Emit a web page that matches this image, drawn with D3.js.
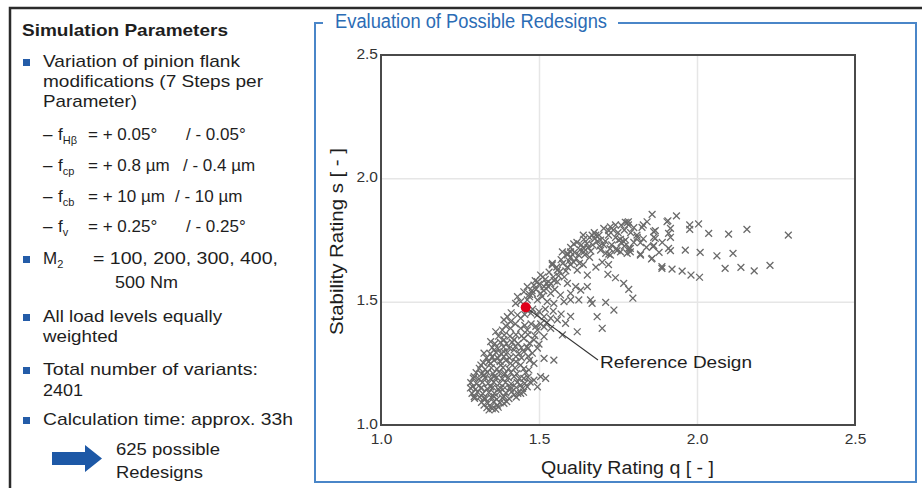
<!DOCTYPE html>
<html>
<head>
<meta charset="utf-8">
<script src="https://cdn.jsdelivr.net/npm/d3@7"></script>
<style>
  body { margin: 0; background: #fff; }
  svg { display: block; font-family: "Liberation Sans", Arial, sans-serif; }
</style>
</head>
<body>
<svg id="chart" width="922" height="488"></svg>
<script>
// axis ticks
var qTicks = [1.0, 1.5, 2.0, 2.5]
var sTicks = [1.0, 1.5, 2.0, 2.5]

// reference design [quality q, stability s]
var referenceDesign = [1.458, 1.477]

// possible redesigns [quality q, stability s]
var variants = [
  // upper arc and right tail
  [1.858,1.854],[1.935,1.848],[1.908,1.828],[1.783,1.824],[1.842,1.824],[1.826,1.801],[1.868,1.788],
  [1.916,1.797],[1.977,1.811],[1.977,1.793],[2.005,1.815],[2.037,1.777],[2.100,1.774],[2.158,1.793],
  [2.289,1.770],[1.916,1.761],[1.863,1.761],[1.811,1.761],[1.821,1.739],[1.774,1.750],[1.758,1.753],
  [1.863,1.727],[1.789,1.716],[1.789,1.702],[1.758,1.702],[1.721,1.693],[1.821,1.693],[1.856,1.673],
  [1.916,1.707],[1.963,1.709],[2.010,1.700],[2.063,1.686],[2.114,1.696],[1.889,1.635],[1.921,1.632],
  [1.953,1.624],[1.981,1.608],[2.008,1.599],[2.089,1.635],[2.139,1.639],[2.181,1.625],[2.231,1.647],
  [1.718,1.611],[1.742,1.597],[1.768,1.574],[1.784,1.550],[1.797,1.514],[1.711,1.497],[1.737,1.466],
  [1.684,1.439],[1.700,1.392],
  [1.779,1.820],[1.783,1.811],[1.830,1.811],[1.742,1.811],[1.705,1.797],[1.721,1.788],[1.668,1.770],
  [1.642,1.753],[1.642,1.716],[1.695,1.750],[1.705,1.730],[1.695,1.709],[1.752,1.750],[1.768,1.743],
  [1.784,1.716],[1.863,1.784],[1.868,1.757],[1.861,1.723],[1.905,1.824],[1.910,1.777],[1.910,1.716],
  [1.610,1.734],[1.600,1.702],[1.574,1.702],[1.590,1.696],[1.711,1.696],[1.747,1.707],[1.779,1.696],
  [1.542,1.655],[1.558,1.628],[1.642,1.702],[1.726,1.689],[1.821,1.689],[1.858,1.676],[1.889,1.642],
  [1.621,1.628],[1.653,1.608],
  [1.505,1.608],[1.542,1.649],[1.590,1.690],[1.634,1.730],[1.680,1.770],[1.726,1.803],[1.773,1.822],
  [1.470,1.520],[1.490,1.550],[1.510,1.520],[1.530,1.560],[1.550,1.550],[1.520,1.590],[1.545,1.600],
  [1.565,1.620],[1.580,1.600],[1.590,1.640],[1.610,1.660],[1.600,1.680],[1.625,1.690],[1.630,1.710],
  [1.655,1.720],[1.670,1.730],[1.685,1.745],[1.660,1.760],[1.675,1.780],[1.690,1.770],[1.720,1.770],
  [1.735,1.790],[1.750,1.780],[1.770,1.790],[1.790,1.780],[1.800,1.800],[1.760,1.810],[1.810,1.770],
  [1.730,1.730],[1.745,1.715],[1.770,1.725],[1.800,1.740],[1.830,1.755],[1.840,1.720],[1.880,1.700],
  [1.890,1.740],[1.570,1.670],[1.600,1.720],[1.620,1.740],[1.640,1.770],[1.600,1.650],[1.660,1.680],
  [1.700,1.660],[1.680,1.640],[1.640,1.650],[1.720,1.650],
  [1.488,1.585],[1.500,1.570],[1.512,1.600],[1.524,1.575],[1.532,1.620],[1.548,1.585],[1.556,1.640],
  [1.562,1.605],[1.575,1.655],[1.585,1.625],[1.595,1.665],[1.612,1.700],[1.618,1.675],[1.628,1.655],
  [1.645,1.690],[1.652,1.735],[1.664,1.705],[1.676,1.755],[1.692,1.725],[1.710,1.745],[1.725,1.715],
  [1.742,1.760],[1.760,1.740],[1.478,1.545],[1.470,1.530],[1.515,1.545],
  // middle band
  [1.495,1.581],[1.484,1.567],[1.516,1.561],[1.537,1.574],[1.558,1.581],[1.590,1.574],[1.616,1.561],
  [1.463,1.561],[1.452,1.540],[1.479,1.534],[1.505,1.534],[1.537,1.534],[1.568,1.527],[1.600,1.534],
  [1.632,1.547],[1.653,1.561],[1.432,1.520],[1.442,1.500],[1.463,1.507],[1.495,1.507],[1.526,1.500],
  [1.547,1.493],[1.579,1.500],[1.600,1.507],[1.626,1.507],[1.663,1.507],[1.668,1.493],[1.426,1.493],
  [1.432,1.446],[1.400,1.439],[1.389,1.426],[1.410,1.419],[1.442,1.433],[1.474,1.453],[1.495,1.446],
  [1.516,1.439],[1.537,1.433],[1.558,1.426],[1.584,1.412],[1.621,1.378],[1.363,1.378],[1.384,1.385],
  [1.410,1.392],[1.442,1.392],[1.463,1.385],[1.495,1.385],[1.516,1.398],[1.537,1.392],[1.574,1.365],
  [1.412,1.455],[1.455,1.448],[1.462,1.465],[1.480,1.470],[1.500,1.460],[1.520,1.470],[1.545,1.462],
  [1.570,1.450],[1.600,1.440],[1.395,1.402],[1.425,1.410],[1.455,1.404],[1.475,1.410],[1.490,1.400],
  [1.505,1.410],[1.525,1.415],
  // dense lower cluster
  [1.347,1.338],[1.389,1.345],[1.421,1.345],[1.452,1.351],[1.484,1.345],[1.516,1.358],[1.516,1.270],
  [1.547,1.263],[1.326,1.291],[1.358,1.304],[1.389,1.297],[1.421,1.304],[1.452,1.297],[1.479,1.291],
  [1.484,1.250],[1.316,1.243],[1.347,1.250],[1.379,1.243],[1.410,1.250],[1.442,1.243],[1.468,1.223],
  [1.295,1.196],[1.326,1.203],[1.358,1.196],[1.389,1.203],[1.421,1.196],[1.452,1.189],[1.484,1.182],
  [1.505,1.196],[1.495,1.155],[1.521,1.189],[1.290,1.155],[1.316,1.149],[1.347,1.155],[1.379,1.149],
  [1.410,1.155],[1.442,1.162],[1.463,1.155],[1.295,1.115],[1.326,1.108],[1.358,1.115],[1.389,1.115],
  [1.421,1.122],[1.442,1.128],[1.326,1.081],[1.347,1.074],[1.368,1.081],[1.389,1.088],[1.342,1.061],
  [1.363,1.064],
  [1.335,1.070],[1.352,1.066],[1.371,1.072],[1.318,1.092],[1.338,1.088],[1.356,1.094],[1.377,1.090],
  [1.398,1.095],[1.296,1.108],[1.312,1.113],[1.331,1.106],[1.349,1.112],[1.366,1.104],[1.384,1.110],
  [1.405,1.107],[1.428,1.113],[1.288,1.128],[1.305,1.134],[1.322,1.127],[1.341,1.132],[1.359,1.128],
  [1.376,1.135],[1.395,1.130],[1.413,1.134],[1.433,1.128],[1.451,1.133],[1.283,1.150],[1.300,1.146],
  [1.318,1.152],[1.336,1.147],[1.354,1.153],[1.371,1.146],[1.392,1.151],[1.410,1.146],[1.428,1.152],
  [1.448,1.148],[1.284,1.172],[1.303,1.167],[1.321,1.173],[1.339,1.168],[1.357,1.174],[1.375,1.168],
  [1.394,1.172],[1.412,1.167],[1.431,1.173],[1.455,1.169],[1.472,1.174],[1.292,1.190],[1.310,1.186],
  [1.329,1.192],[1.347,1.187],[1.366,1.193],[1.384,1.188],[1.403,1.192],[1.438,1.188],[1.465,1.194],
  [1.301,1.212],[1.318,1.207],[1.337,1.213],[1.355,1.208],[1.373,1.214],[1.392,1.209],[1.411,1.213],
  [1.430,1.208],[1.458,1.213],[1.311,1.230],[1.330,1.226],[1.349,1.232],[1.367,1.227],[1.386,1.233],
  [1.404,1.228],[1.424,1.232],[1.452,1.228],[1.324,1.252],[1.340,1.256],[1.358,1.262],[1.377,1.257],
  [1.395,1.262],[1.427,1.257],[1.470,1.262],[1.334,1.272],[1.352,1.276],[1.370,1.271],[1.389,1.277],
  [1.407,1.272],[1.427,1.277],[1.445,1.272],[1.466,1.278],[1.346,1.289],[1.364,1.294],[1.380,1.289],
  [1.400,1.294],[1.437,1.290],[1.465,1.310],[1.352,1.314],[1.370,1.310],[1.388,1.316],[1.406,1.312],
  [1.425,1.318],[1.444,1.313],[1.462,1.317],[1.495,1.312],[1.360,1.330],[1.378,1.335],[1.397,1.330],
  [1.415,1.336],[1.434,1.330],[1.470,1.332],[1.500,1.328],[1.372,1.360],[1.390,1.364],[1.408,1.360],
  [1.427,1.366],[1.445,1.361],[1.465,1.366],[1.487,1.362]
]

// texts
var panelTitle = "Simulation Parameters"
var chartTitle = "Evaluation of Possible Redesigns"
var xTitle = "Quality Rating q [ - ]"
var yTitle = "Stability Rating s [ - ]"
var refLabel = "Reference Design"

var svg = d3.select("#chart")

// outer dark frame (top + left edge)
svg.append("path")
  .attr("d", "M10,488 V8 H922")
  .attr("fill", "none")
  .attr("stroke", "#2b2b2b")
  .attr("stroke-width", 2.5)

// ---------- left panel ----------
var left = svg.append("g").attr("fill", "#1e1e1e").style("font-size", "17px")

// one piece of text; w = width it takes in the picture
function txt(x, y, s, w, sub) {
  var t = left.append("text").attr("x", x).attr("y", y).text(s)
  if (sub) {
    t.append("tspan").attr("dy", 4).style("font-size", "11px").text(sub)
  }
  if (w) t.attr("textLength", w).attr("lengthAdjust", "spacingAndGlyphs")
  return t
}

txt(22, 36, panelTitle, 206).style("font-weight", "bold")

// bullet squares
var bulletY = [67, 264, 322, 375, 425]
left.selectAll("rect.bullet")
  .data(bulletY)
  .enter()
  .append("rect")
    .attr("class", "bullet")
    .attr("x", 23)
    .attr("y", function(d){ return d - 8 })
    .attr("width", 7)
    .attr("height", 7)
    .attr("fill", "#245ca8")

txt(43, 67, "Variation of pinion flank", 197)
txt(43, 87, "modifications (7 Steps per", 220)
txt(43, 107, "Parameter)", 94)

// flank modification rows
txt(43, 140, "–"); txt(58, 140, "f", null, "Hβ")
txt(88, 140, "= + 0.05°"); txt(186, 140, "/ - 0.05°")
txt(43, 171, "–"); txt(58, 171, "f", null, "cp")
txt(88, 171, "= + 0.8 µm"); txt(183, 171, "/ - 0.4 µm")
txt(43, 202, "–"); txt(58, 202, "f", null, "cb")
txt(88, 202, "= + 10 µm"); txt(175, 202, "/ - 10 µm")
txt(43, 232, "–"); txt(58, 232, "f", null, "v")
txt(88, 232, "= + 0.25°"); txt(186, 232, "/ - 0.25°")

txt(43, 264, "M", null, "2")
txt(93, 264, "= 100, 200, 300, 400,", 185)
txt(115, 288, "500 Nm", 63)
txt(43, 322, "All load levels equally", 179)
txt(43, 342, "weighted", 75)
txt(43, 375, "Total number of variants:", 215)
txt(43, 396, "2401", 40)
txt(43, 425, "Calculation time: approx. 33h", 250)

// blue block arrow
left.append("path")
  .attr("d", "M52,452 H85 V445 L102,458.5 L85,472 V465 H52 Z")
  .attr("fill", "#1d58a6")
txt(116, 455, "625 possible", 104)
txt(116, 478, "Redesigns", 87)

// ---------- right panel ----------
svg.append("path")
  .attr("d", "M618,23 H916 V482 H315 V23 H323")
  .attr("fill", "none")
  .attr("stroke", "#4a86c8")
  .attr("stroke-width", 2)

svg.append("text")
  .attr("x", 335).attr("y", 28)
  .attr("fill", "#2b6cb5")
  .style("font-size", "20px")
  .attr("textLength", 272).attr("lengthAdjust", "spacingAndGlyphs")
  .text(chartTitle)

var x = d3.scaleLinear().domain([1, 2.5]).range([381, 855])
var y = d3.scaleLinear().domain([1, 2.5]).range([425, 55])

// grid lines
svg.append("g")
  .attr("transform", "translate(0,425)")
  .call(d3.axisBottom(x).tickValues(qTicks.slice(1, 3)).tickSize(-370).tickFormat(""))
  .call(function(g){ g.select(".domain").remove() })
  .selectAll("line").attr("stroke", "#e6e6e6").attr("stroke-width", 1.5)

svg.append("g")
  .attr("transform", "translate(381,0)")
  .call(d3.axisLeft(y).tickValues(sTicks.slice(1, 3)).tickSize(-474).tickFormat(""))
  .call(function(g){ g.select(".domain").remove() })
  .selectAll("line").attr("stroke", "#e6e6e6").attr("stroke-width", 1.5)

// tick labels
var xAxis = svg.append("g")
  .attr("transform", "translate(0,425)")
  .call(d3.axisBottom(x).tickValues(qTicks).tickSize(0).tickPadding(8).tickFormat(d3.format(".1f")))
xAxis.select(".domain").remove()
xAxis.selectAll("text")
  .attr("fill", "#333")
  .style("font-size", "15.5px")
  .style("font-family", "'Liberation Sans', Arial, sans-serif")

var yAxis = svg.append("g")
  .attr("transform", "translate(381,0)")
  .call(d3.axisLeft(y).tickValues(sTicks).tickSize(0).tickPadding(3).tickFormat(d3.format(".1f")))
yAxis.select(".domain").remove()
yAxis.selectAll("text")
  .attr("fill", "#333")
  .attr("dy", "0.2em")
  .style("font-size", "15.5px")
  .style("font-family", "'Liberation Sans', Arial, sans-serif")

// scatter markers
var a = 3.4
svg.append("g")
  .selectAll("path")
  .data(variants)
  .enter()
  .append("path")
    .attr("d", function(d){
      var cx = x(d[0]), cy = y(d[1])
      return "M" + (cx - a) + "," + (cy - a) + "L" + (cx + a) + "," + (cy + a) +
             "M" + (cx - a) + "," + (cy + a) + "L" + (cx + a) + "," + (cy - a)
    })
    .attr("stroke", "#6a6a6a")
    .attr("stroke-width", 1.3)
    .attr("fill", "none")

// plot frame
svg.append("rect")
  .attr("x", x(1)).attr("y", y(2.5))
  .attr("width", x(2.5) - x(1)).attr("height", y(1) - y(2.5))
  .attr("fill", "none")
  .attr("stroke", "#4a4a4a")
  .attr("stroke-width", 2)

// reference design + leader
svg.append("line")
  .attr("x1", x(referenceDesign[0])).attr("y1", y(referenceDesign[1]))
  .attr("x2", 598).attr("y2", 360)
  .attr("stroke", "#333").attr("stroke-width", 1.1)

svg.append("circle")
  .attr("cx", x(referenceDesign[0])).attr("cy", y(referenceDesign[1]))
  .attr("r", 5)
  .attr("fill", "#e0001a")

svg.append("text")
  .attr("x", 600).attr("y", 368)
  .attr("fill", "#1e1e1e")
  .style("font-size", "17px")
  .attr("textLength", 152).attr("lengthAdjust", "spacingAndGlyphs")
  .text(refLabel)

// axis titles
svg.append("text")
  .attr("x", 541).attr("y", 474)
  .attr("fill", "#1e1e1e")
  .style("font-size", "17.5px")
  .attr("textLength", 173).attr("lengthAdjust", "spacingAndGlyphs")
  .text(xTitle)

svg.append("text")
  .attr("transform", "translate(343,335) rotate(-90)")
  .attr("fill", "#1e1e1e")
  .style("font-size", "17.5px")
  .attr("textLength", 187).attr("lengthAdjust", "spacingAndGlyphs")
  .text(yTitle)
</script>
</body>
</html>
